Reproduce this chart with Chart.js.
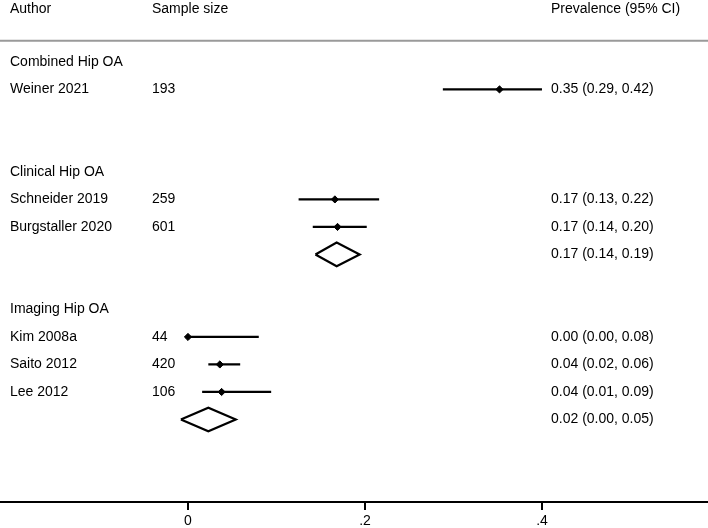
<!DOCTYPE html>
<html>
<head>
<meta charset="utf-8">
<script src="https://cdn.jsdelivr.net/npm/chart.js@4/dist/chart.umd.min.js"></script>
<style>
html,body{margin:0;padding:0;background:#fff;}
#wrap{width:708px;height:528px;}
</style>
</head>
<body>
<div id="wrap"><canvas id="c" width="708" height="528"></canvas></div>
<script>
// ---- data ----
const headers = ['Author', 'Sample size', 'Prevalence (95% CI)'];
const groups = ['Combined Hip OA', 'Clinical Hip OA', 'Imaging Hip OA'];
const groupRows = [0, 4, 9];
const studies = ['Weiner 2021', 'Schneider 2019', 'Burgstaller 2020', 'Kim 2008a', 'Saito 2012', 'Lee 2012'];
const studyRows = [1, 5, 6, 10, 11, 12];
const sampleSizes = ['193', '259', '601', '44', '420', '106'];
const estimates = [0.352, 0.166, 0.169, 0.0, 0.036, 0.038];
const lowers = [0.288, 0.125, 0.141, 0.0, 0.023, 0.016];
const uppers = [0.42, 0.216, 0.202, 0.08, 0.059, 0.094];
const ciLabels = ['0.35 (0.29, 0.42)', '0.17 (0.13, 0.22)', '0.17 (0.14, 0.20)', '0.00 (0.00, 0.08)', '0.04 (0.02, 0.06)', '0.04 (0.01, 0.09)'];
const pooledRows = [7, 13];
const pooledEst = [0.168, 0.023];
const pooledLow = [0.144, -0.008];
const pooledHigh = [0.194, 0.054];
const pooledLabels = ['0.17 (0.14, 0.19)', '0.02 (0.00, 0.05)'];
const xTicks = [0, 0.2, 0.4];
const xTickLabels = ['0', '.2', '.4'];

// ---- layout / style ----
const X_MIN = -0.2124, X_MAX = 0.5876, PLOT_MAX = 0.4;
const Y_MIN = -2.25, Y_MAX = 16;
const HEADER_ROW = -1.92, RULE_ROW = -0.77;
const COL_X = [10, 152, 551];
const FONT = '14px "Liberation Sans", Arial, Helvetica, sans-serif';
const DIAMOND_H = 0.43;

const datasets = [];
studies.forEach((s, i) => {
  datasets.push({
    type: 'line',
    data: [{x: lowers[i], y: studyRows[i]}, {x: Math.min(uppers[i], PLOT_MAX), y: studyRows[i]}],
    borderColor: '#000', borderWidth: 2.2, pointRadius: 0, fill: false, tension: 0
  });
});
datasets.push({
  type: 'scatter',
  data: estimates.map((e, i) => ({x: e, y: studyRows[i]})),
  pointStyle: 'rectRot', pointRadius: 3.6, backgroundColor: '#000', borderColor: '#000', borderWidth: 1
});
pooledRows.forEach((r, i) => {
  datasets.push({
    type: 'line',
    data: [
      {x: pooledLow[i], y: r},
      {x: pooledEst[i], y: r - DIAMOND_H},
      {x: pooledHigh[i], y: r},
      {x: pooledEst[i], y: r + DIAMOND_H},
      {x: pooledLow[i], y: r}
    ],
    borderColor: '#000', borderWidth: 2.2, pointRadius: 0, fill: false, tension: 0,
    borderJoinStyle: 'miter'
  });
});

const textPlugin = {
  id: 'forestText',
  afterDraw(chart) {
    const ctx = chart.ctx, ys = chart.scales.y;
    ctx.save();
    ctx.font = FONT;
    ctx.fillStyle = '#000';
    ctx.textBaseline = 'middle';
    ctx.textAlign = 'left';
    const hy = ys.getPixelForValue(HEADER_ROW);
    headers.forEach((h, i) => ctx.fillText(h, COL_X[i], hy));
    groups.forEach((g, i) => ctx.fillText(g, COL_X[0], ys.getPixelForValue(groupRows[i])));
    studies.forEach((s, i) => {
      const y = ys.getPixelForValue(studyRows[i]);
      ctx.fillText(s, COL_X[0], y);
      ctx.fillText(sampleSizes[i], COL_X[1], y);
      ctx.fillText(ciLabels[i], COL_X[2], y);
    });
    pooledRows.forEach((r, i) => ctx.fillText(pooledLabels[i], COL_X[2], ys.getPixelForValue(r)));
    // rule under header
    const ry = ys.getPixelForValue(RULE_ROW);
    ctx.strokeStyle = '#9a9a9a';
    ctx.lineWidth = 2;
    ctx.beginPath();
    ctx.moveTo(0, ry);
    ctx.lineTo(chart.width, ry);
    ctx.stroke();
    ctx.restore();
  }
};

new Chart(document.getElementById('c'), {
  data: {datasets},
  options: {
    responsive: false,
    devicePixelRatio: 1,
    animation: false,
    layout: {padding: 0, autoPadding: false},
    plugins: {legend: {display: false}, tooltip: {enabled: false}},
    scales: {
      x: {
        type: 'linear', min: X_MIN, max: X_MAX,
        afterBuildTicks(scale) { scale.ticks = xTicks.map(v => ({value: v})); },
        afterFit(scale) { scale.height = 26; scale.paddingLeft = 0; scale.paddingRight = 0; },
        ticks: {
          color: '#000', padding: 3,
          font: {family: '"Liberation Sans", Arial, sans-serif', size: 14},
          callback(v) { const i = xTicks.indexOf(v); return i >= 0 ? xTickLabels[i] : ''; },
          maxRotation: 0
        },
        grid: {display: true, drawOnChartArea: false, drawTicks: true, tickLength: 8, color: '#000', lineWidth: 2},
        border: {display: true, color: '#000', width: 2}
      },
      y: {
        type: 'linear', min: Y_MIN, max: Y_MAX, reverse: true, display: false
      }
    }
  },
  plugins: [textPlugin]
});
</script>
</body>
</html>
